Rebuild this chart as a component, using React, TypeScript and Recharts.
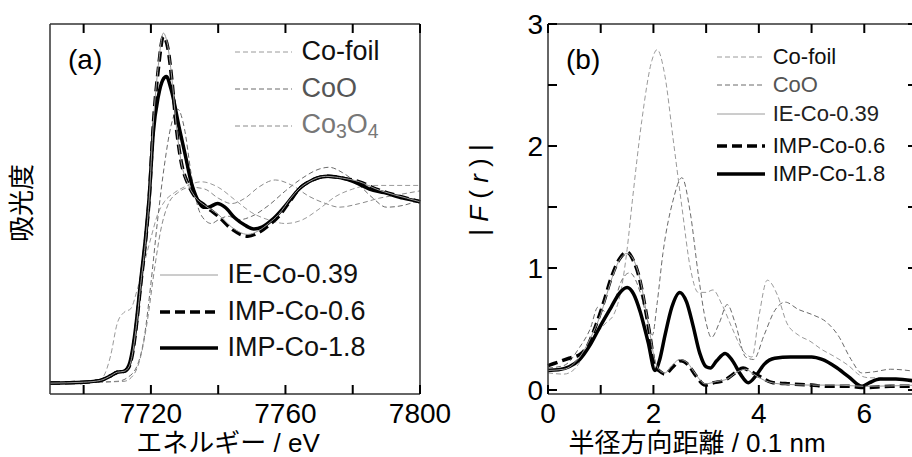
import React from "react";
import { LineChart, Line, XAxis, YAxis } from "recharts";

// ---- (a) XANES: [energy / eV, absorbance] ----
const xanesCoFoil: [number, number][] = [
  [7690, 0], [7704, 0.01], [7706, 0.04], [7708, 0.15], [7710, 0.33], [7712, 0.39],
  [7714, 0.41], [7716, 0.52], [7718, 0.66], [7720, 0.8], [7722, 0.93], [7724, 1.0],
  [7727, 1.05], [7731, 1.09], [7735, 1.11], [7740, 1.08], [7745, 1.01], [7750, 0.94],
  [7755, 0.9], [7760, 0.88], [7765, 0.9], [7770, 0.96], [7775, 1.03], [7780, 1.07],
  [7785, 1.09], [7790, 1.09], [7795, 1.09], [7800, 1.09],
];
const xanesCoO: [number, number][] = [
  [7690, 0], [7710, 0.01], [7713, 0.03], [7716, 0.1], [7718, 0.25], [7720, 0.55],
  [7722, 0.9], [7724, 1.2], [7726, 1.42], [7728, 1.51], [7730, 1.4], [7732, 1.15],
  [7734, 0.97], [7736, 0.9], [7738, 0.88], [7740, 0.9], [7743, 0.92], [7746, 0.9],
  [7750, 0.92], [7755, 0.98], [7760, 1.06], [7765, 1.13], [7770, 1.18], [7773, 1.19],
  [7777, 1.16], [7782, 1.09], [7786, 1.02], [7790, 0.97], [7795, 0.98], [7800, 1.01],
];
const xanesCo3O4: [number, number][] = [
  [7690, 0], [7712, 0.01], [7715, 0.05], [7717, 0.15], [7719, 0.35], [7721, 0.62],
  [7723, 0.85], [7725, 0.98], [7728, 1.05], [7732, 1.08], [7736, 1.07], [7740, 1.02],
  [7744, 0.99], [7748, 1.02], [7752, 1.08], [7757, 1.12], [7762, 1.09], [7767, 1.03],
  [7772, 0.99], [7776, 0.97], [7782, 0.99], [7788, 1.02], [7794, 1.04], [7800, 1.06],
];
const xanesIE039: [number, number][] = [
  [7690, 0], [7700, 0.005], [7705, 0.015], [7708, 0.04], [7710, 0.06], [7712, 0.065],
  [7713.5, 0.09], [7714.5, 0.16], [7715.5, 0.29], [7717, 0.55], [7718.5, 0.8],
  [7719.5, 1.02], [7720.7, 1.43], [7722.2, 1.75], [7723.7, 1.93], [7725, 1.86],
  [7726.4, 1.65], [7727.5, 1.43], [7729, 1.22], [7731, 1.1], [7733, 1.03], [7736, 0.98],
  [7740, 0.93], [7744, 0.86], [7748.8, 0.82], [7752, 0.84], [7755, 0.88], [7758, 0.93],
  [7761.6, 1.02], [7764, 1.07], [7767, 1.11], [7772, 1.14], [7777, 1.13], [7782, 1.11],
  [7787, 1.07], [7792, 1.04], [7796, 1.02], [7800, 1.0],
];
const xanesIMP06: [number, number][] = [
  [7690, 0], [7700, 0.005], [7705, 0.015], [7708, 0.04], [7710, 0.06], [7712, 0.065],
  [7713.5, 0.09], [7714.5, 0.16], [7715.5, 0.29], [7717, 0.55], [7718.5, 0.8],
  [7719.5, 1.02], [7720.7, 1.42], [7722.2, 1.73], [7723.7, 1.91], [7725, 1.85],
  [7726.4, 1.64], [7727.5, 1.42], [7729, 1.22], [7731, 1.1], [7733, 1.03], [7736, 0.98],
  [7740, 0.92], [7744, 0.85], [7748.8, 0.81], [7752, 0.83], [7755, 0.87], [7758, 0.92],
  [7761.6, 1.01], [7764, 1.07], [7767, 1.11], [7772, 1.14], [7777, 1.13], [7782, 1.11],
  [7787, 1.07], [7792, 1.04], [7796, 1.02], [7800, 1.0],
];
const xanesIMP18: [number, number][] = [
  [7690, 0], [7700, 0.005], [7705, 0.015], [7708, 0.04], [7710, 0.06], [7712, 0.065],
  [7713.5, 0.1], [7714.5, 0.18], [7715.5, 0.31], [7717, 0.57], [7718.5, 0.82],
  [7719.5, 1.03], [7720.7, 1.38], [7722.2, 1.58], [7723.5, 1.67], [7724.6, 1.69],
  [7726, 1.62], [7728.5, 1.4], [7730.3, 1.25], [7731.8, 1.12], [7733.9, 1.01],
  [7735.5, 0.97], [7737, 0.97], [7739.8, 0.99], [7742, 0.97], [7745, 0.91], [7748, 0.87],
  [7750.6, 0.85], [7753, 0.86], [7756, 0.9], [7759.6, 0.97], [7764.6, 1.08], [7768, 1.12],
  [7772.7, 1.14], [7777, 1.13], [7781.6, 1.1], [7785, 1.07], [7789.4, 1.05], [7795, 1.02],
  [7800, 1.0],
];

// ---- (b) FT-EXAFS: [r / 0.1 nm, |F(r)|] ----
const ftCoFoil: [number, number][] = [
  [0, 0.14], [0.3, 0.13], [0.5, 0.17], [0.7, 0.3], [0.9, 0.45], [1.1, 0.55], [1.25, 0.62],
  [1.4, 0.85], [1.5, 1.15], [1.6, 1.55], [1.78, 2.21], [1.97, 2.7], [2.07, 2.79],
  [2.22, 2.57], [2.37, 2.07], [2.54, 1.5], [2.7, 1.0], [2.85, 0.8], [3.0, 0.8], [3.13, 0.82],
  [3.3, 0.7], [3.5, 0.5], [3.7, 0.32], [3.87, 0.27], [4.0, 0.6], [4.16, 0.9], [4.35, 0.78],
  [4.53, 0.55], [4.75, 0.45], [4.97, 0.4], [5.2, 0.33], [5.41, 0.28], [5.7, 0.2],
  [5.92, 0.12], [6.1, 0.1], [6.24, 0.1], [6.5, 0.09], [7.0, 0.08],
];
const ftCoO: [number, number][] = [
  [0, 0.18], [0.3, 0.2], [0.6, 0.35], [0.8, 0.5], [0.95, 0.68], [1.1, 0.64], [1.25, 0.72],
  [1.4, 0.9], [1.55, 0.96], [1.75, 0.8], [1.9, 0.55], [1.98, 0.45], [2.07, 0.71],
  [2.18, 1.12], [2.37, 1.55], [2.54, 1.74], [2.7, 1.45], [2.85, 0.95], [3.0, 0.55],
  [3.1, 0.43], [3.25, 0.55], [3.4, 0.7], [3.55, 0.55], [3.75, 0.27], [3.9, 0.25],
  [4.1, 0.45], [4.3, 0.65], [4.5, 0.72], [4.75, 0.66], [5.0, 0.62], [5.3, 0.55],
  [5.5, 0.45], [5.75, 0.25], [5.95, 0.14], [6.2, 0.15], [6.5, 0.17], [7.0, 0.15],
];
const ftIE039: [number, number][] = [
  [0, 0.16], [0.3, 0.17], [0.6, 0.27], [0.8, 0.42], [1.0, 0.62], [1.2, 0.9], [1.35, 1.06],
  [1.5, 1.12], [1.62, 1.07], [1.75, 0.9], [1.9, 0.55], [2.03, 0.24], [2.12, 0.16],
  [2.22, 0.14], [2.35, 0.2], [2.5, 0.25], [2.65, 0.22], [2.8, 0.13], [2.98, 0.05],
  [3.2, 0.07], [3.4, 0.09], [3.6, 0.15], [3.75, 0.17], [3.9, 0.13], [4.1, 0.08],
  [4.4, 0.05], [5.0, 0.04], [5.5, 0.04], [6.0, 0.03], [7.0, 0.04],
];
const ftIMP06: [number, number][] = [
  [0, 0.2], [0.2, 0.23], [0.4, 0.26], [0.6, 0.29], [0.75, 0.36], [0.9, 0.52], [1.05, 0.71],
  [1.2, 0.92], [1.35, 1.07], [1.5, 1.13], [1.62, 1.06], [1.72, 0.94], [1.85, 0.66],
  [1.95, 0.4], [2.03, 0.19], [2.1, 0.16], [2.22, 0.13], [2.35, 0.18], [2.52, 0.24],
  [2.65, 0.21], [2.8, 0.12], [2.98, 0.04], [3.15, 0.06], [3.35, 0.08], [3.55, 0.14],
  [3.7, 0.18], [3.85, 0.15], [4.02, 0.11], [4.27, 0.06], [4.6, 0.05], [5.0, 0.04],
  [5.3, 0.03], [5.7, 0.03], [6.0, 0.02], [6.5, 0.03], [7.0, 0.03],
];
const ftIMP18: [number, number][] = [
  [0, 0.16], [0.2, 0.165], [0.4, 0.19], [0.6, 0.25], [0.8, 0.37], [1.0, 0.53], [1.2, 0.68],
  [1.35, 0.79], [1.5, 0.84], [1.62, 0.79], [1.75, 0.64], [1.9, 0.39], [2.03, 0.16],
  [2.12, 0.25], [2.22, 0.45], [2.35, 0.68], [2.5, 0.8], [2.63, 0.72], [2.75, 0.53],
  [2.88, 0.3], [3.0, 0.19], [3.08, 0.18], [3.2, 0.24], [3.36, 0.3], [3.5, 0.24],
  [3.65, 0.13], [3.8, 0.06], [3.95, 0.12], [4.1, 0.21], [4.3, 0.26], [4.6, 0.27],
  [5.0, 0.27], [5.2, 0.25], [5.45, 0.19], [5.7, 0.11], [5.96, 0.03], [6.1, 0.06],
  [6.3, 0.09], [6.6, 0.09], [7.0, 0.07],
];

const xanesTicks = [7700, 7720, 7740, 7760, 7780, 7800];
const rTicks = [0, 1, 2, 3, 4, 5, 6, 7];
const ftTicks = [0, 0.5, 1, 1.5, 2, 2.5, 3];

const toPts = (arr: [number, number][]) => arr.map(([x, y]) => ({ x, y }));

const FONT = "'Liberation Sans', Arial, 'Noto Sans CJK JP', sans-serif";
const FRAME = { stroke: "#333", strokeWidth: 1.5 };

// plot boxes in page pixels (match chart margins below)
const XANES_DOMAIN = [7690, 7800];
const FT_X_DOMAIN = [0, 7];
const FT_Y_DOMAIN = [-0.033, 3];
const boxA = { left: 50, right: 420, top: 24, bottom: 394 };
const boxB = { left: 548, right: 917, top: 24, bottom: 394 };
const TICK_LEN = 9;

const lin = (d: number[], r0: number, r1: number) => (v: number) => r0 + ((v - d[0]) / (d[1] - d[0])) * (r1 - r0);
const xA = lin(XANES_DOMAIN, boxA.left, boxA.right);
const xB = lin(FT_X_DOMAIN, boxB.left, boxB.right);
const yB = lin(FT_Y_DOMAIN, boxB.bottom, boxB.top);

const styles = {
  coFoil: { stroke: "#9a9a9a", strokeWidth: 1, strokeDasharray: "5 3" },
  coO: { stroke: "#6a6a6a", strokeWidth: 1, strokeDasharray: "5 3" },
  co3o4: { stroke: "#8a8a8a", strokeWidth: 1, strokeDasharray: "5 3" },
  ie: { stroke: "#9a9a9a", strokeWidth: 1 },
  imp06: { stroke: "#000", strokeWidth: 3.5, strokeDasharray: "10 5" },
  imp18: { stroke: "#000", strokeWidth: 3.5 },
};

const xanesXLabel = (p: any) =>
  p.payload.value % 40 === 0 ? (
    <text x={p.x} y={403} dy="0.71em" textAnchor="middle" fontSize={28} fontFamily={FONT} fill="#000">
      {p.payload.value}
    </text>
  ) : <g />;
const ftXLabel = (p: any) =>
  p.payload.value % 2 === 0 ? (
    <text x={p.x} y={403} dy="0.71em" textAnchor="middle" fontSize={28} fontFamily={FONT} fill="#000">
      {p.payload.value}
    </text>
  ) : <g />;
const ftYLabel = (p: any) =>
  Number.isInteger(p.payload.value) ? (
    <text x={83} y={p.y} dy="0.36em" textAnchor="end" fontSize={28} fontFamily={FONT} fill="#000">
      {p.payload.value}
    </text>
  ) : <g />;

type LS = { stroke: string; strokeWidth: number; strokeDasharray?: string };

function Key({ x, y, len, ls, children, size, color }: {
  x: number; y: number; len: number; ls: LS; children: React.ReactNode; size: number; color: string;
}) {
  return (
    <div style={{ position: "absolute", left: x, top: y - size * 0.6, height: size * 1.2, display: "flex", alignItems: "center", fontFamily: FONT, fontSize: size, color, whiteSpace: "nowrap" }}>
      <svg width={len} height={8} style={{ marginRight: size * 0.35 }}>
        <line x1={0} y1={4} x2={len} y2={4} {...ls} />
      </svg>
      <span>{children}</span>
    </div>
  );
}

// inward tick marks on all four sides of each frame
function TickMarks() {
  return (
    <svg width={912} height={457} style={{ position: "absolute", left: 0, top: 0, pointerEvents: "none" }}>
      {xanesTicks.map((v) => (
        <g key={`a${v}`}>
          <line x1={xA(v)} x2={xA(v)} y1={boxA.bottom} y2={boxA.bottom - TICK_LEN} stroke="#000" strokeWidth={2} />
          <line x1={xA(v)} x2={xA(v)} y1={boxA.top} y2={boxA.top + TICK_LEN} stroke="#000" strokeWidth={2} />
        </g>
      ))}
      {rTicks.map((v) => (
        <g key={`bx${v}`}>
          <line x1={xB(v)} x2={xB(v)} y1={boxB.bottom} y2={boxB.bottom - TICK_LEN} stroke="#000" strokeWidth={2} />
          <line x1={xB(v)} x2={xB(v)} y1={boxB.top} y2={boxB.top + TICK_LEN} stroke="#000" strokeWidth={2} />
        </g>
      ))}
      {ftTicks.map((v) => (
        <g key={`by${v}`}>
          <line x1={boxB.left} x2={boxB.left + TICK_LEN} y1={yB(v)} y2={yB(v)} stroke="#000" strokeWidth={2} />
          <line x1={boxB.right} x2={boxB.right - TICK_LEN} y1={yB(v)} y2={yB(v)} stroke="#000" strokeWidth={2} />
        </g>
      ))}
    </svg>
  );
}

const sub = (t: string) => <span style={{ fontSize: "0.72em", verticalAlign: "-0.25em" }}>{t}</span>;

const title: React.CSSProperties = {
  position: "absolute", fontFamily: FONT, fontSize: 26, lineHeight: "26px", whiteSpace: "nowrap", color: "#000",
};

export default function App() {
  return (
    <div style={{ position: "absolute", left: 0, top: 0, width: 912, height: 457, overflow: "hidden", background: "#fff" }}>
      {/* panel (a) */}
      <div style={{ position: "absolute", left: 0, top: 0 }}>
        <LineChart width={460} height={457} margin={{ top: 23, right: 30, bottom: 23, left: 0 }}>
          <XAxis dataKey="x" type="number" domain={XANES_DOMAIN} ticks={xanesTicks} interval={0}
            tickLine={false} height={40} axisLine={FRAME} tick={xanesXLabel} />
          <XAxis xAxisId="top" orientation="top" dataKey="x" type="number" domain={XANES_DOMAIN}
            tick={false} tickLine={false} height={1} axisLine={FRAME} />
          <YAxis type="number" domain={[-0.06, 1.98]} width={50} tick={false} tickLine={false} axisLine={FRAME} />
          <YAxis yAxisId="right" orientation="right" type="number" domain={[-0.06, 1.98]} width={10} tick={false} tickLine={false} axisLine={FRAME} />
          <Line data={toPts(xanesCoFoil)} dataKey="y" type="monotone" dot={false} isAnimationActive={false} {...styles.coFoil} />
          <Line data={toPts(xanesCoO)} dataKey="y" type="monotone" dot={false} isAnimationActive={false} {...styles.coO} />
          <Line data={toPts(xanesCo3O4)} dataKey="y" type="monotone" dot={false} isAnimationActive={false} {...styles.co3o4} />
          <Line data={toPts(xanesIMP18)} dataKey="y" type="monotone" dot={false} isAnimationActive={false} {...styles.imp18} />
          <Line data={toPts(xanesIMP06)} dataKey="y" type="monotone" dot={false} isAnimationActive={false} {...styles.imp06} />
          <Line data={toPts(xanesIE039)} dataKey="y" type="monotone" dot={false} isAnimationActive={false} {...styles.ie} />
        </LineChart>
      </div>

      {/* panel (b) */}
      <div style={{ position: "absolute", left: 460, top: 0 }}>
        <LineChart width={470} height={457} margin={{ top: 23, right: 3, bottom: 23, left: 0 }}>
          <XAxis dataKey="x" type="number" domain={FT_X_DOMAIN} ticks={rTicks} interval={0}
            tickLine={false} height={40} axisLine={FRAME} tick={ftXLabel} />
          <XAxis xAxisId="top" orientation="top" dataKey="x" type="number" domain={FT_X_DOMAIN}
            tick={false} tickLine={false} height={1} axisLine={FRAME} />
          <YAxis type="number" domain={FT_Y_DOMAIN} ticks={ftTicks} interval={0} width={88}
            tickLine={false} axisLine={FRAME} tick={ftYLabel} />
          <YAxis yAxisId="right" orientation="right" type="number" domain={FT_Y_DOMAIN} width={10}
            tick={false} tickLine={false} axisLine={FRAME} />
          <Line data={toPts(ftCoFoil)} dataKey="y" type="monotone" dot={false} isAnimationActive={false} {...styles.coFoil} />
          <Line data={toPts(ftCoO)} dataKey="y" type="monotone" dot={false} isAnimationActive={false} {...styles.coO} />
          <Line data={toPts(ftIMP18)} dataKey="y" type="monotone" dot={false} isAnimationActive={false} {...styles.imp18} />
          <Line data={toPts(ftIMP06)} dataKey="y" type="monotone" dot={false} isAnimationActive={false} {...styles.imp06} />
          <Line data={toPts(ftIE039)} dataKey="y" type="monotone" dot={false} isAnimationActive={false} {...styles.ie} />
        </LineChart>
      </div>

      {/* panel labels */}
      <div style={{ ...title, fontSize: 28, lineHeight: "32px", left: 68, top: 44 }}>(a)</div>
      <div style={{ ...title, fontSize: 28, lineHeight: "32px", left: 566, top: 44 }}>(b)</div>

      {/* axis titles */}
      <div style={{ ...title, left: 228, top: 443, transform: "translate(-50%,-50%)" }}>エネルギー / eV</div>
      <div style={{ ...title, left: 697, top: 443, transform: "translate(-50%,-50%)" }}>半径方向距離 / 0.1 nm</div>
      <div style={{ ...title, left: 22, top: 203, transform: "translate(-50%,-50%) rotate(-90deg)" }}>吸光度</div>
      <div style={{ ...title, left: 479, top: 190, transform: "translate(-50%,-50%) rotate(-90deg)" }}>
        | <i>F</i> ( <i>r</i> ) |
      </div>

      {/* legends (a) */}
      <Key x={235} y={52} len={57} ls={styles.coFoil} size={27} color="#111">Co-foil</Key>
      <Key x={235} y={89} len={57} ls={styles.coO} size={27} color="#555">CoO</Key>
      <Key x={235} y={126} len={57} ls={styles.co3o4} size={27} color="#777">Co{sub("3")}O{sub("4")}</Key>
      <Key x={160} y={275} len={58} ls={styles.ie} size={27} color="#111">IE-Co-0.39</Key>
      <Key x={160} y={312} len={58} ls={styles.imp06} size={27} color="#111">IMP-Co-0.6</Key>
      <Key x={160} y={348} len={58} ls={styles.imp18} size={27} color="#111">IMP-Co-1.8</Key>

      {/* legend (b) */}
      <Key x={717} y={57} len={48} ls={styles.coFoil} size={22} color="#111">Co-foil</Key>
      <Key x={717} y={85} len={48} ls={styles.coO} size={22} color="#555">CoO</Key>
      <Key x={717} y={114} len={48} ls={styles.ie} size={22} color="#222">IE-Co-0.39</Key>
      <Key x={717} y={146} len={48} ls={styles.imp06} size={22} color="#111">IMP-Co-0.6</Key>
      <Key x={717} y={174} len={48} ls={styles.imp18} size={22} color="#111">IMP-Co-1.8</Key>

      <TickMarks />
    </div>
  );
}
